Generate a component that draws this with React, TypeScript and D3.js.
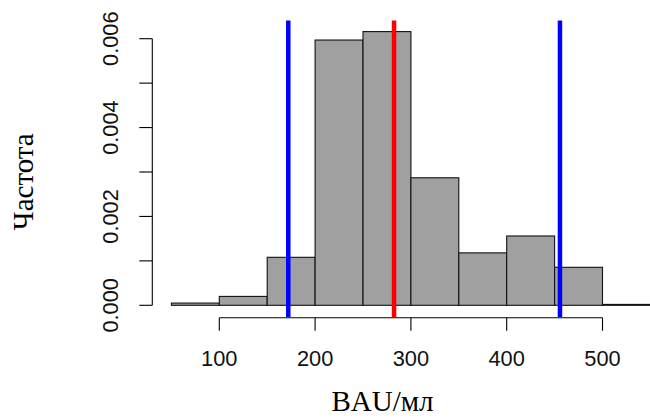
import React from "react";
import * as d3 from "d3";

const binStarts = [50, 100, 150, 200, 250, 300, 350, 400, 450, 500];
const binWidth = 50;
const density = [0.00005, 0.0002, 0.00108, 0.00597, 0.00616, 0.00287, 0.00118, 0.00156, 0.000855, 0.00002];
const xTicks = [100, 200, 300, 400, 500];
const yTicks = [0, 0.001, 0.002, 0.003, 0.004, 0.005, 0.006];
const yTickLabels = ["0.000", "", "0.002", "", "0.004", "", "0.006"];
const blueLines = [172, 455.6];
const redLines = [282.4];
const xLabel = "BAU/мл";
const yLabel = "Частота";

const W = 650;
const H = 420;

export default function App() {
  const x = d3.scaleLinear().domain([100, 500]).range([219.3, 602.5]);
  const y = d3.scaleLinear().domain([0, 0.006]).range([305.3, 38.7]);
  const plotTop = 20.5;
  const plotBottom = 317;
  const xAxisY = 317.7;
  const yAxisX = 152.3;
  const tickLen = 13;
  const sans = "'Liberation Sans', Arial, sans-serif";
  const serif = "'Liberation Serif', 'Times New Roman', serif";

  return (
    <svg
      width={W}
      height={H}
      style={{ position: "absolute", left: 0, top: 0, background: "#fff" }}
    >
      <rect x={0} y={0} width={W} height={H} fill="#fff" />
      {binStarts.map((b, i) => (
        <rect
          key={i}
          x={x(b)}
          y={y(density[i])}
          width={x(b + binWidth) - x(b)}
          height={y(0) - y(density[i])}
          fill="#a0a0a0"
          stroke="#111"
          strokeWidth={1.1}
        />
      ))}
      {blueLines.map((v, i) => (
        <line key={"b" + i} x1={x(v)} x2={x(v)} y1={plotTop} y2={plotBottom} stroke="#0000ff" strokeWidth={4.5} />
      ))}
      {redLines.map((v, i) => (
        <line key={"r" + i} x1={x(v)} x2={x(v)} y1={plotTop} y2={plotBottom} stroke="#ff0000" strokeWidth={4.5} />
      ))}
      {/* x axis */}
      <line x1={x(xTicks[0])} x2={x(xTicks[xTicks.length - 1])} y1={xAxisY} y2={xAxisY} stroke="#000" strokeWidth={1.1} />
      {xTicks.map((t) => (
        <g key={t}>
          <line x1={x(t)} x2={x(t)} y1={xAxisY} y2={xAxisY + tickLen} stroke="#000" strokeWidth={1.1} />
          <text x={x(t)} y={366} textAnchor="middle" fontFamily={sans} fontSize={21.8} fill="#111">
            {t}
          </text>
        </g>
      ))}
      {/* y axis */}
      <line x1={yAxisX} x2={yAxisX} y1={y(yTicks[0])} y2={y(yTicks[yTicks.length - 1])} stroke="#000" strokeWidth={1.1} />
      {yTicks.map((t, i) => (
        <g key={i}>
          <line x1={yAxisX - tickLen} x2={yAxisX} y1={y(t)} y2={y(t)} stroke="#000" strokeWidth={1.1} />
          {yTickLabels[i] && (
            <text
              transform={`translate(118.3, ${y(t)}) rotate(-90)`}
              textAnchor="middle"
              fontFamily={sans}
              fontSize={21.8}
              fill="#111"
            >
              {yTickLabels[i]}
            </text>
          )}
        </g>
      ))}
      <text x={382.5} y={411} textAnchor="middle" fontFamily={serif} fontSize={29} fill="#000">
        {xLabel}
      </text>
      <text transform="translate(33.3, 181.7) rotate(-90)" textAnchor="middle" fontFamily={serif} fontSize={29} fill="#000">
        {yLabel}
      </text>
    </svg>
  );
}
